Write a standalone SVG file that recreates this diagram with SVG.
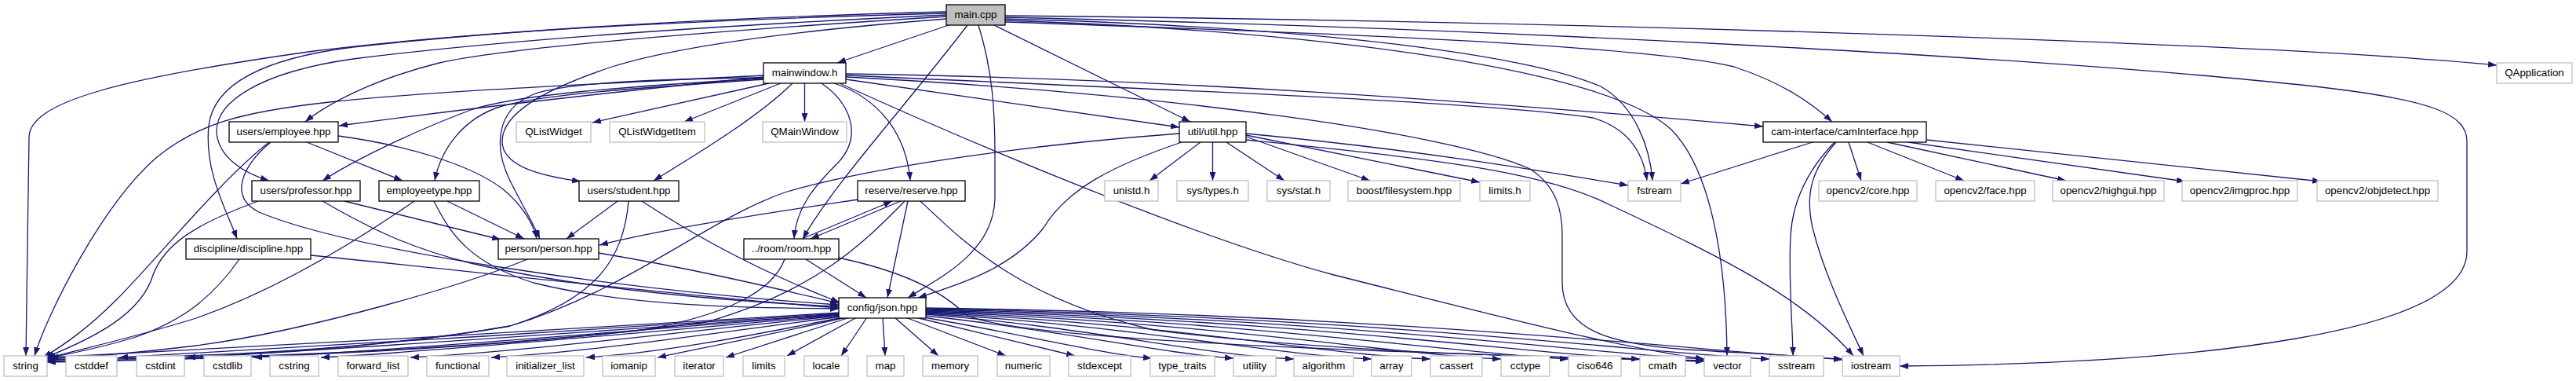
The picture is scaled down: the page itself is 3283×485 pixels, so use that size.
<svg xmlns="http://www.w3.org/2000/svg" width="3283" height="485" viewBox="0 0 3283 485">
<style>
.n rect{fill:#fff;stroke:#000;stroke-width:1.3}
.x rect{fill:#fff;stroke:#bfbfbf;stroke-width:1.3}
.m rect{fill:#bfbfbf}
text{font-family:"Liberation Sans",Arial,Helvetica,sans-serif;font-size:13.33px;text-anchor:middle;fill:#000}
#edges path{fill:none;stroke:#191970;stroke-width:1.3;marker-end:url(#a)}
</style>
<defs>
<marker id="a" markerUnits="userSpaceOnUse" markerWidth="11" markerHeight="8" refX="11" refY="4" orient="auto" viewBox="0 0 11 8"><path d="M0,0 L11,4 L0,8 Z" fill="#191970"/></marker>
</defs>
<rect width="3283" height="485" fill="#fff"/>
<g id="edges">
<path d="M1209,32 L1067,80"/>
<path d="M1281,20 C2000,27 2900,55 3182,83"/>
<path d="M1281,22 C1900,36 2600,72 2950,110 C3100,127 3144,145 3144,180 L3144,320 C3144,425 2800,463 2421,466"/>
<path d="M1281,24 C1700,35 1950,72 2040,110 C2085,135 2103,190 2106,230"/>
<path d="M1281,26 C1700,40 2050,90 2130,165 C2180,215 2200,330 2201,453"/>
<path d="M1281,28 C1700,42 2100,58 2210,85 C2270,105 2305,128 2335,155"/>
<path d="M1267,32 L1517,155"/>
<path d="M1247,32 C1265,90 1268,140 1268,200 L1268,250 C1268,320 1200,352 1157,379"/>
<path d="M1233,32 C1150,140 1062,235 1023,304"/>
<path d="M1206,17 C900,25 600,40 400,65 C150,100 37,130 37,175 L33,453"/>
<path d="M1206,21 C900,40 650,60 560,80 C480,100 420,130 389,155"/>
<path d="M1206,19 C900,33 650,50 450,75 C330,92 275,130 276,168 C278,200 310,220 343,230"/>
<path d="M1206,15 C900,23 650,38 450,60 C330,75 272,110 266,160 C260,220 290,270 302,304"/>
<path d="M1206,24 C1000,40 860,60 780,85 C690,115 640,145 640,180 C640,212 690,224 740,231"/>
<path d="M980,106 L755,156"/>
<path d="M995,106 L872,155"/>
<path d="M1025.5,106 L1025.5,155"/>
<path d="M1010,106 C965,150 890,195 833,230"/>
<path d="M1047,106 C1082,130 1100,170 1070,205 C1040,235 1015,262 1012,304"/>
<path d="M1063,106 C1120,125 1155,170 1160,230"/>
<path d="M1078,101 L1503,162"/>
<path d="M1070,106 C1300,210 1550,310 1700,350 C1900,400 2050,440 2172,457"/>
<path d="M1078,96 C1500,115 1900,130 2030,150 C2080,165 2095,200 2099,230"/>
<path d="M1078,94 C1500,100 1900,130 2247,161"/>
<path d="M1078,98 C1500,120 1850,170 1950,215 C1985,238 1991,270 1991,300 L1991,360 C1991,420 2050,438 2150,445 C2250,451 2300,453 2348,458"/>
<path d="M973,96 C800,105 560,115 420,130 C300,143 250,160 200,200 C130,260 60,400 44,453"/>
<path d="M973,98 C800,115 620,135 432,160"/>
<path d="M973,100 C800,110 660,120 600,140 C520,170 450,205 411,230"/>
<path d="M973,101 C850,110 700,118 640,135 C590,150 562,190 554,230"/>
<path d="M973,99 C850,100 720,105 680,120 C630,140 630,190 650,230 C665,260 680,285 688,304"/>
<path d="M391,181 L513,230"/>
<path d="M431,173 C520,185 600,210 640,240 C665,260 680,285 684,304"/>
<path d="M345,181 C310,210 290,250 330,270 C450,320 800,370 1069,388"/>
<path d="M343,181 C280,230 200,330 150,380 C110,420 80,440 55,455"/>
<path d="M439,256 L638,305"/>
<path d="M411,256 C470,290 520,315 600,335 C750,370 950,385 1069,390"/>
<path d="M329,256 C250,285 210,310 195,350 C180,400 120,430 58,455"/>
<path d="M570,256 L668,304"/>
<path d="M553,256 C575,300 600,335 680,360 C800,390 950,392 1069,393"/>
<path d="M528,256 C450,310 350,370 250,405 C170,430 100,445 60,456"/>
<path d="M787,256 L722,304"/>
<path d="M818,256 C900,310 980,350 1070,385"/>
<path d="M801,256 C795,330 760,380 650,415 C450,450 200,455 60,458"/>
<path d="M763,322 C900,345 1000,370 1069,386"/>
<path d="M672,330 C600,360 400,420 250,440 C150,452 100,455 60,457"/>
<path d="M396,325 C600,345 900,380 1069,392"/>
<path d="M305,330 C270,380 230,410 170,430 C120,445 80,452 60,456"/>
<path d="M1148,256 L1033,304"/>
<path d="M1157,256 L1131,379"/>
<path d="M1093,254 C1000,268 850,290 764,312"/>
<path d="M1153,256 C1100,310 1040,370 900,410 C600,450 200,458 60,460"/>
<path d="M1173,256 C1230,310 1300,380 1470,420 C1700,450 2000,455 2172,460"/>
<path d="M1022,304 L1137,256"/>
<path d="M1027,330 L1104,379"/>
<path d="M1000,330 C985,370 930,400 820,420 C550,450 250,458 60,461"/>
<path d="M1068,328 C1150,345 1200,370 1230,400 C1280,430 1700,448 2172,459"/>
<path d="M1530,181 L1465,230"/>
<path d="M1545.5,181 L1545.5,230"/>
<path d="M1563,181 L1637,230"/>
<path d="M1588,174 L1746,230"/>
<path d="M1588,172 L1886,232"/>
<path d="M1588,170 C1800,190 1950,215 2075,236"/>
<path d="M1588,178 C1800,200 1960,215 2050,260 C2200,330 2300,380 2362,453"/>
<path d="M1506,181 C1420,210 1360,240 1330,290 C1290,340 1230,360 1170,379"/>
<path d="M1503,170 C1300,185 1100,215 1000,245 C900,280 800,370 650,415 C450,450 200,458 60,458"/>
<path d="M2356,181 L2372,230"/>
<path d="M2380,181 L2503,230"/>
<path d="M2405,181 L2633,230"/>
<path d="M2432,181 L2785,231"/>
<path d="M2455,178 L2958,231"/>
<path d="M2310,181 L2142,234"/>
<path d="M2338,181 C2310,210 2285,250 2282,300 C2279,360 2285,420 2285,453"/>
<path d="M2340,181 C2310,215 2300,245 2310,290 C2325,350 2355,410 2375,453"/>
<path d="M1070,398 C900,410 210,448 63,455"/>
<path d="M1070,399 C900,411 300,448 152,455"/>
<path d="M1070,400 C900,412 385,448 238,455"/>
<path d="M1070,400 C910,413 470,448 323,455"/>
<path d="M1071,401 C920,414 556,448 409,455"/>
<path d="M1072,402 C930,415 670,448 523,455"/>
<path d="M1073,403 C950,418 760,448 626,455"/>
<path d="M1075,404 C990,420 860,448 747,455"/>
<path d="M1078,404 C1000,422 900,442 838,455"/>
<path d="M1083,404 L925,455"/>
<path d="M1092,404 L1003,453"/>
<path d="M1105,404 L1072,453"/>
<path d="M1125,404 L1128,453"/>
<path d="M1140,404 L1196,453"/>
<path d="M1154,404 L1282,453"/>
<path d="M1167,404 L1370,453"/>
<path d="M1178,404 C1300,425 1400,450 1468,456"/>
<path d="M1180,402 C1350,420 1480,450 1572,456"/>
<path d="M1180,400 C1400,418 1530,452 1649,457"/>
<path d="M1180,399 C1450,415 1620,452 1748,457"/>
<path d="M1180,398 C1500,412 1690,452 1823,457"/>
<path d="M1180,397 C1550,410 1780,452 1913,457"/>
<path d="M1180,396 C1600,408 1870,452 1999,457"/>
<path d="M1180,395 C1650,406 1960,452 2090,457"/>
<path d="M1180,394 C1700,404 2040,452 2172,457"/>
<path d="M1180,393 C1750,402 2120,452 2255,457"/>
<path d="M1180,392 C1800,400 2210,452 2348,457"/>
</g>
<g id="n_main" class="n m"><rect x="1206" y="6" width="75" height="26"/><text x="1243.5" y="22.5">main.cpp</text></g>
<g id="n_mainwindow" class="n"><rect x="973" y="80" width="105" height="26"/><text x="1025.5" y="96.5">mainwindow.h</text></g>
<g id="n_qapplication" class="x"><rect x="3182" y="80" width="96" height="26"/><text x="3230" y="96.5">QApplication</text></g>
<g id="n_employee" class="n"><rect x="292" y="155" width="139" height="26"/><text x="361.5" y="171.5">users/employee.hpp</text></g>
<g id="n_qlistwidget" class="x"><rect x="658" y="155" width="95" height="26"/><text x="705.5" y="171.5">QListWidget</text></g>
<g id="n_qlistwidgetitem" class="x"><rect x="777" y="155" width="121" height="26"/><text x="837.5" y="171.5">QListWidgetItem</text></g>
<g id="n_qmainwindow" class="x"><rect x="972" y="155" width="107" height="26"/><text x="1025.5" y="171.5">QMainWindow</text></g>
<g id="n_util" class="n"><rect x="1503" y="155" width="85" height="26"/><text x="1545.5" y="171.5">util/util.hpp</text></g>
<g id="n_caminterface" class="n"><rect x="2247" y="155" width="208" height="26"/><text x="2351" y="171.5">cam-interface/camInterface.hpp</text></g>
<g id="n_professor" class="n"><rect x="321" y="230" width="138" height="26"/><text x="390" y="246.5">users/professor.hpp</text></g>
<g id="n_employeetype" class="n"><rect x="483" y="230" width="128" height="26"/><text x="547" y="246.5">employeetype.hpp</text></g>
<g id="n_student" class="n"><rect x="738" y="230" width="127" height="26"/><text x="801.5" y="246.5">users/student.hpp</text></g>
<g id="n_reserve" class="n"><rect x="1093" y="230" width="137" height="26"/><text x="1161.5" y="246.5">reserve/reserve.hpp</text></g>
<g id="n_unistd" class="x"><rect x="1408" y="230" width="68" height="26"/><text x="1442" y="246.5">unistd.h</text></g>
<g id="n_systypes" class="x"><rect x="1500" y="230" width="91" height="26"/><text x="1545.5" y="246.5">sys/types.h</text></g>
<g id="n_sysstat" class="x"><rect x="1615" y="230" width="80" height="26"/><text x="1655" y="246.5">sys/stat.h</text></g>
<g id="n_boostfs" class="x"><rect x="1718" y="230" width="143" height="26"/><text x="1789.5" y="246.5">boost/filesystem.hpp</text></g>
<g id="n_limitsh" class="x"><rect x="1886" y="230" width="64" height="26"/><text x="1918" y="246.5">limits.h</text></g>
<g id="n_fstream" class="x"><rect x="2075" y="230" width="67" height="26"/><text x="2108.5" y="246.5">fstream</text></g>
<g id="n_cvcore" class="x"><rect x="2318" y="230" width="125" height="26"/><text x="2380.5" y="246.5">opencv2/core.hpp</text></g>
<g id="n_cvface" class="x"><rect x="2467" y="230" width="126" height="26"/><text x="2530" y="246.5">opencv2/face.hpp</text></g>
<g id="n_cvhighgui" class="x"><rect x="2616" y="230" width="142" height="26"/><text x="2687" y="246.5">opencv2/highgui.hpp</text></g>
<g id="n_cvimgproc" class="x"><rect x="2781" y="230" width="147" height="26"/><text x="2854.5" y="246.5">opencv2/imgproc.hpp</text></g>
<g id="n_cvobjdetect" class="x"><rect x="2953" y="230" width="154" height="26"/><text x="3030" y="246.5">opencv2/objdetect.hpp</text></g>
<g id="n_discipline" class="n"><rect x="237" y="304" width="159" height="26"/><text x="316.5" y="320.5">discipline/discipline.hpp</text></g>
<g id="n_person" class="n"><rect x="635" y="304" width="128" height="26"/><text x="699" y="320.5">person/person.hpp</text></g>
<g id="n_room" class="n"><rect x="948" y="304" width="121" height="26"/><text x="1008.5" y="320.5">../room/room.hpp</text></g>
<g id="n_json" class="n"><rect x="1069" y="379" width="111" height="26"/><text x="1124.5" y="395.5">config/json.hpp</text></g>
<g id="n_string" class="x"><rect x="5" y="453" width="55" height="26"/><text x="32.5" y="469.5">string</text></g>
<g id="n_cstddef" class="x"><rect x="84" y="453" width="65" height="26"/><text x="116.5" y="469.5">cstddef</text></g>
<g id="n_cstdint" class="x"><rect x="174" y="453" width="61" height="26"/><text x="204.5" y="469.5">cstdint</text></g>
<g id="n_cstdlib" class="x"><rect x="260" y="453" width="60" height="26"/><text x="290" y="469.5">cstdlib</text></g>
<g id="n_cstring" class="x"><rect x="344" y="453" width="62" height="26"/><text x="375" y="469.5">cstring</text></g>
<g id="n_forward_list" class="x"><rect x="431" y="453" width="89" height="26"/><text x="475.5" y="469.5">forward_list</text></g>
<g id="n_functional" class="x"><rect x="544" y="453" width="79" height="26"/><text x="583.5" y="469.5">functional</text></g>
<g id="n_initializer_list" class="x"><rect x="646" y="453" width="98" height="26"/><text x="695" y="469.5">initializer_list</text></g>
<g id="n_iomanip" class="x"><rect x="768" y="453" width="67" height="26"/><text x="801.5" y="469.5">iomanip</text></g>
<g id="n_iterator" class="x"><rect x="860" y="453" width="62" height="26"/><text x="891" y="469.5">iterator</text></g>
<g id="n_limits" class="x"><rect x="947" y="453" width="53" height="26"/><text x="973.5" y="469.5">limits</text></g>
<g id="n_locale" class="x"><rect x="1025" y="453" width="56" height="26"/><text x="1053" y="469.5">locale</text></g>
<g id="n_map" class="x"><rect x="1105" y="453" width="47" height="26"/><text x="1128.5" y="469.5">map</text></g>
<g id="n_memory" class="x"><rect x="1176" y="453" width="70" height="26"/><text x="1211" y="469.5">memory</text></g>
<g id="n_numeric" class="x"><rect x="1271" y="453" width="67" height="26"/><text x="1304.5" y="469.5">numeric</text></g>
<g id="n_stdexcept" class="x"><rect x="1362" y="453" width="79" height="26"/><text x="1401.5" y="469.5">stdexcept</text></g>
<g id="n_type_traits" class="x"><rect x="1466" y="453" width="82" height="26"/><text x="1507" y="469.5">type_traits</text></g>
<g id="n_utility" class="x"><rect x="1572" y="453" width="54" height="26"/><text x="1599" y="469.5">utility</text></g>
<g id="n_algorithm" class="x"><rect x="1649" y="453" width="76" height="26"/><text x="1687" y="469.5">algorithm</text></g>
<g id="n_array" class="x"><rect x="1748" y="453" width="51" height="26"/><text x="1773.5" y="469.5">array</text></g>
<g id="n_cassert" class="x"><rect x="1823" y="453" width="66" height="26"/><text x="1856" y="469.5">cassert</text></g>
<g id="n_cctype" class="x"><rect x="1913" y="453" width="62" height="26"/><text x="1944" y="469.5">cctype</text></g>
<g id="n_ciso646" class="x"><rect x="1999" y="453" width="67" height="26"/><text x="2032.5" y="469.5">ciso646</text></g>
<g id="n_cmath" class="x"><rect x="2090" y="453" width="58" height="26"/><text x="2119" y="469.5">cmath</text></g>
<g id="n_vector" class="x"><rect x="2172" y="453" width="59" height="26"/><text x="2201.5" y="469.5">vector</text></g>
<g id="n_sstream" class="x"><rect x="2255" y="453" width="69" height="26"/><text x="2289.5" y="469.5">sstream</text></g>
<g id="n_iostream" class="x"><rect x="2348" y="453" width="73" height="26"/><text x="2384.5" y="469.5">iostream</text></g>
</svg>
